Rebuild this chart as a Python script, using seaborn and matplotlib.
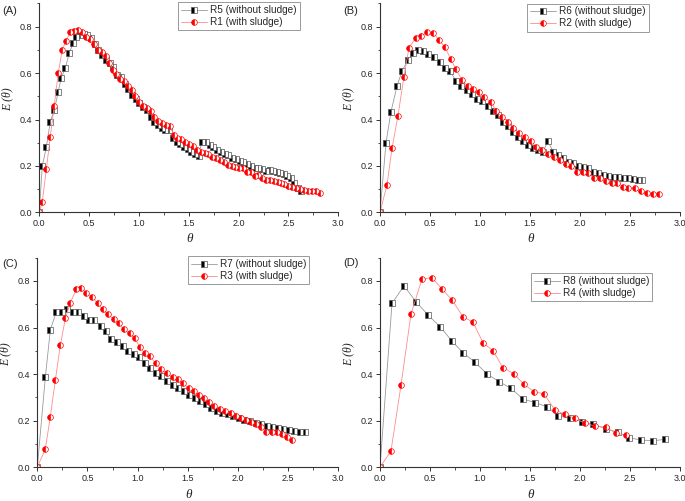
import matplotlib
matplotlib.use("Agg")
import matplotlib.pyplot as plt
import seaborn as sns
from matplotlib.ticker import MultipleLocator

sns.set_style("ticks")
plt.rcParams['font.family'] = ['Liberation Sans', 'DejaVu Sans']

# ---------------- data ----------------
# (A) R5 without sludge / R1 with sludge
theta_r5 = [0.00, 0.03, 0.07, 0.11, 0.15, 0.19, 0.22, 0.26, 0.30, 0.34,
            0.37, 0.41, 0.45, 0.48, 0.52, 0.56, 0.59, 0.63, 0.67, 0.71,
            0.74, 0.78, 0.82, 0.86, 0.89, 0.93, 0.97, 1.00, 1.04, 1.08,
            1.12, 1.15, 1.19, 1.23, 1.26, 1.30, 1.34, 1.38, 1.41, 1.45,
            1.49, 1.52, 1.56, 1.60, 1.63, 1.67, 1.71, 1.74, 1.78, 1.82,
            1.86, 1.89, 1.93, 1.97, 2.01, 2.04, 2.08, 2.12, 2.16, 2.19,
            2.23, 2.27, 2.31, 2.34, 2.38, 2.42, 2.46, 2.49, 2.53, 2.56,
            2.60, 2.63]
e_r5 = [0.00, 0.20, 0.28, 0.39, 0.44, 0.52, 0.58, 0.62, 0.685, 0.73,
        0.755, 0.765, 0.77, 0.765, 0.75, 0.725, 0.70, 0.68, 0.655, 0.645,
        0.625, 0.59, 0.585, 0.555, 0.53, 0.505, 0.49, 0.47, 0.455, 0.44,
        0.41, 0.39, 0.375, 0.365, 0.355, 0.355, 0.32, 0.305, 0.295, 0.28,
        0.272, 0.262, 0.25, 0.244, 0.305, 0.305, 0.29, 0.28, 0.268, 0.26,
        0.25, 0.245, 0.235, 0.23, 0.22, 0.215, 0.21, 0.20, 0.19, 0.19,
        0.185, 0.18, 0.182, 0.178, 0.172, 0.168, 0.163, 0.158, 0.148, 0.125,
        0.105, 0.09]
theta_r1 = [0.00, 0.03, 0.07, 0.11, 0.15, 0.19, 0.23, 0.27, 0.31, 0.35,
            0.39, 0.43, 0.47, 0.51, 0.55, 0.59, 0.63, 0.67, 0.70, 0.74,
            0.77, 0.81, 0.85, 0.89, 0.93, 0.96, 1.00, 1.04, 1.08, 1.12,
            1.15, 1.19, 1.23, 1.27, 1.31, 1.35, 1.38, 1.42, 1.46, 1.50,
            1.54, 1.58, 1.62, 1.66, 1.69, 1.73, 1.77, 1.81, 1.85, 1.89,
            1.93, 1.96, 2.00, 2.04, 2.08, 2.12, 2.16, 2.19, 2.23, 2.27,
            2.31, 2.35, 2.39, 2.43, 2.46, 2.50, 2.54, 2.58, 2.62, 2.66,
            2.70, 2.74, 2.78, 2.82]
e_r1 = [0.00, 0.045, 0.185, 0.325, 0.46, 0.60, 0.70, 0.74, 0.775, 0.782,
        0.785, 0.775, 0.755, 0.745, 0.725, 0.70, 0.69, 0.675, 0.645, 0.615,
        0.595, 0.575, 0.565, 0.545, 0.525, 0.50, 0.475, 0.46, 0.45, 0.435,
        0.41, 0.395, 0.385, 0.375, 0.37, 0.335, 0.32, 0.315, 0.305, 0.295,
        0.285, 0.27, 0.26, 0.255, 0.25, 0.24, 0.235, 0.225, 0.215, 0.205,
        0.20, 0.195, 0.19, 0.19, 0.175, 0.175, 0.155, 0.16, 0.15, 0.14,
        0.14, 0.135, 0.13, 0.125, 0.12, 0.115, 0.11, 0.105, 0.10, 0.095,
        0.09, 0.09, 0.09, 0.085]

# (B) R6 without sludge / R2 with sludge
theta_r6 = [0.00, 0.06, 0.11, 0.17, 0.22, 0.28, 0.33, 0.38, 0.43, 0.48,
            0.54, 0.60, 0.65, 0.70, 0.76, 0.81, 0.87, 0.92, 0.97, 1.02,
            1.08, 1.13, 1.18, 1.23, 1.28, 1.33, 1.38, 1.43, 1.48, 1.53,
            1.58, 1.63, 1.68, 1.73, 1.78, 1.83, 1.88, 1.93, 1.98, 2.03,
            2.08, 2.13, 2.18, 2.23, 2.28, 2.33, 2.38, 2.43, 2.48, 2.53,
            2.58, 2.62]
e_r6 = [0.00, 0.30, 0.434, 0.544, 0.609, 0.656, 0.685, 0.70, 0.697, 0.682,
        0.668, 0.646, 0.62, 0.609, 0.567, 0.546, 0.527, 0.51, 0.49, 0.48,
        0.458, 0.437, 0.42, 0.39, 0.37, 0.348, 0.326, 0.307, 0.29, 0.278,
        0.27, 0.262, 0.307, 0.262, 0.245, 0.233, 0.218, 0.211, 0.20, 0.197,
        0.19, 0.175, 0.168, 0.161, 0.157, 0.154, 0.151, 0.149, 0.146, 0.142,
        0.139, 0.138]
theta_r2 = [0.00, 0.07, 0.12, 0.18, 0.24, 0.29, 0.36, 0.41, 0.47, 0.53,
            0.59, 0.65, 0.71, 0.76, 0.82, 0.88, 0.93, 0.99, 1.04, 1.11,
            1.16, 1.22, 1.28, 1.33, 1.39, 1.45, 1.51, 1.56, 1.62, 1.68,
            1.74, 1.80, 1.86, 1.91, 1.97, 2.03, 2.08, 2.14, 2.20, 2.26,
            2.32, 2.37, 2.43, 2.48, 2.55, 2.61, 2.67, 2.73, 2.79]
e_r2 = [0.00, 0.118, 0.276, 0.417, 0.585, 0.71, 0.753, 0.76, 0.776, 0.774,
        0.743, 0.711, 0.659, 0.616, 0.57, 0.544, 0.53, 0.517, 0.495, 0.477,
        0.437, 0.412, 0.39, 0.362, 0.34, 0.323, 0.307, 0.283, 0.269, 0.251,
        0.24, 0.225, 0.208, 0.201, 0.175, 0.175, 0.171, 0.146, 0.146, 0.136,
        0.128, 0.128, 0.111, 0.106, 0.103, 0.093, 0.082, 0.079, 0.079]

# (C) R7 without sludge / R3 with sludge
theta_r7 = [0.00, 0.08, 0.13, 0.19, 0.25, 0.30, 0.36, 0.41, 0.47, 0.52,
            0.57, 0.63, 0.68, 0.73, 0.79, 0.85, 0.90, 0.96, 1.01, 1.07,
            1.12, 1.18, 1.23, 1.29, 1.35, 1.40, 1.46, 1.51, 1.57, 1.62,
            1.68, 1.73, 1.79, 1.84, 1.90, 1.95, 2.01, 2.06, 2.12, 2.18,
            2.23, 2.29, 2.34, 2.40, 2.45, 2.51, 2.56, 2.62, 2.67]
e_r7 = [0.00, 0.386, 0.59, 0.668, 0.668, 0.68, 0.668, 0.666, 0.651, 0.633,
        0.633, 0.607, 0.585, 0.55, 0.54, 0.521, 0.50, 0.487, 0.472, 0.447,
        0.425, 0.406, 0.394, 0.372, 0.353, 0.339, 0.328, 0.311, 0.296, 0.285,
        0.27, 0.256, 0.242, 0.235, 0.229, 0.222, 0.21, 0.203, 0.199, 0.189,
        0.185, 0.179, 0.172, 0.167, 0.163, 0.16, 0.157, 0.153, 0.15]
theta_r3 = [0.00, 0.08, 0.13, 0.18, 0.23, 0.28, 0.33, 0.39, 0.44, 0.49,
            0.55, 0.60, 0.65, 0.70, 0.76, 0.81, 0.86, 0.92, 0.97, 1.02,
            1.07, 1.12, 1.18, 1.23, 1.29, 1.35, 1.40, 1.45, 1.51, 1.56,
            1.61, 1.66, 1.71, 1.76, 1.82, 1.87, 1.93, 1.98, 2.03, 2.08,
            2.13, 2.18, 2.23, 2.28, 2.34, 2.39, 2.44, 2.49, 2.54]
e_r3 = [0.00, 0.079, 0.218, 0.375, 0.525, 0.64, 0.707, 0.766, 0.769, 0.75,
        0.73, 0.704, 0.678, 0.657, 0.637, 0.621, 0.592, 0.575, 0.554, 0.518,
        0.489, 0.478, 0.446, 0.421, 0.404, 0.386, 0.378, 0.361, 0.339, 0.329,
        0.31, 0.299, 0.282, 0.265, 0.25, 0.243, 0.232, 0.22, 0.21, 0.203,
        0.193, 0.185, 0.175, 0.153, 0.15, 0.15, 0.142, 0.132, 0.117]

# (D) R8 without sludge / R4 with sludge
theta_r8 = [0.00, 0.12, 0.24, 0.36, 0.48, 0.60, 0.72, 0.83, 0.95, 1.07,
            1.19, 1.31, 1.43, 1.55, 1.67, 1.78, 1.90, 2.02, 2.13, 2.26,
            2.38, 2.49, 2.61, 2.73, 2.85]
e_r8 = [0.00, 0.704, 0.779, 0.711, 0.654, 0.604, 0.542, 0.492, 0.451, 0.401,
        0.368, 0.339, 0.293, 0.278, 0.26, 0.222, 0.21, 0.196, 0.185, 0.165,
        0.15, 0.127, 0.117, 0.114, 0.12]
theta_r4 = [0.00, 0.11, 0.21, 0.31, 0.42, 0.52, 0.62, 0.72, 0.83, 0.93,
            1.03, 1.13, 1.23, 1.34, 1.44, 1.54, 1.64, 1.75, 1.85, 1.95,
            2.05, 2.15, 2.26, 2.36, 2.46]
e_r4 = [0.00, 0.07, 0.353, 0.658, 0.809, 0.814, 0.766, 0.718, 0.647, 0.623,
        0.535, 0.50, 0.428, 0.401, 0.356, 0.325, 0.315, 0.246, 0.228, 0.21,
        0.189, 0.177, 0.172, 0.146, 0.139]

x_ticks = [0.0, 0.5, 1.0, 1.5, 2.0, 2.5, 3.0]
y_ticks = [0.0, 0.2, 0.4, 0.6, 0.8]

W, H = 685, 501


def draw_panel(ax, tb, eb, lab_b, tr, er, lab_r, leg_xy):
    sns.lineplot(x=tb, y=eb, ax=ax, label=lab_b, errorbar=None, sort=False,
                 color='#9a9a9a', lw=0.6, marker='s', markersize=3.9,
                 fillstyle='left', markerfacecolor='black',
                 markerfacecoloralt='white', markeredgecolor='#555555',
                 markeredgewidth=0.5)
    sns.lineplot(x=tr, y=er, ax=ax, label=lab_r, errorbar=None, sort=False,
                 color='#ff8c8c', lw=0.6, marker='o', markersize=4.1,
                 fillstyle='left', markerfacecolor='red',
                 markerfacecoloralt='white', markeredgecolor='red',
                 markeredgewidth=0.5)
    ax.set_xlim(0, 3.0)
    ax.set_ylim(0, 0.9)
    ax.set_xticks(x_ticks)
    ax.set_yticks(y_ticks)
    ax.xaxis.set_minor_locator(MultipleLocator(0.25))
    ax.yaxis.set_minor_locator(MultipleLocator(0.1))
    ax.tick_params(which='major', direction='out', length=3, width=0.7,
                   labelsize=6.5, pad=2, color='#333333')
    ax.tick_params(which='minor', direction='out', length=1.8, width=0.6,
                   color='#333333')
    sns.despine(ax=ax)
    for s in ['left', 'bottom']:
        ax.spines[s].set_linewidth(0.8)
        ax.spines[s].set_color('#333333')
    ax.set_xlabel('θ', fontfamily='Liberation Serif', style='italic', fontsize=9.5)
    ax.set_ylabel('E (θ)', fontfamily='Liberation Serif', style='italic', fontsize=8.5)
    ax.xaxis.set_label_coords(0.502, -0.13)
    ax.xaxis.label.set_verticalalignment('center')
    ax.yaxis.set_label_coords(-0.106, 0.54)
    ax.yaxis.label.set_verticalalignment('center')
    leg = ax.legend(loc='upper left', bbox_to_anchor=leg_xy, frameon=True,
                    fancybox=False, edgecolor='#999999', framealpha=1,
                    fontsize=7.2, handlelength=2.6, handletextpad=0.3,
                    borderpad=0.3, labelspacing=0.2, borderaxespad=0)
    leg.get_frame().set_linewidth(0.7)


fig = plt.figure(figsize=(W / 100, H / 100), dpi=100)
ax_a = fig.add_axes([39.3 / W, 1 - 212.3 / H, 299 / W, 208.8 / H])
ax_b = fig.add_axes([380 / W, 1 - 212.3 / H, 300 / W, 208.8 / H])
ax_c = fig.add_axes([37.3 / W, 1 - 467.3 / H, 301 / W, 209.6 / H])
ax_d = fig.add_axes([380 / W, 1 - 467.3 / H, 300 / W, 209.6 / H])

draw_panel(ax_a, theta_r5, e_r5, 'R5 (without sludge)',
           theta_r1, e_r1, 'R1 (with sludge)', (0.464, 1.007))
draw_panel(ax_b, theta_r6, e_r6, 'R6 (without sludge)',
           theta_r2, e_r2, 'R2 (with sludge)', (0.49, 1.0))
draw_panel(ax_c, theta_r7, e_r7, 'R7 (without sludge)',
           theta_r3, e_r3, 'R3 (with sludge)', (0.50, 1.008))
draw_panel(ax_d, theta_r8, e_r8, 'R8 (without sludge)',
           theta_r4, e_r4, 'R4 (with sludge)', (0.503, 0.927))

for tag, px, py in [('(A)', 2, 11), ('(B)', 343, 11), ('(C)', 2, 264), ('(D)', 343, 263)]:
    fig.text(px / W, 1 - py / H, tag, ha='left', va='center', fontsize=8)

fig.savefig('out.png', dpi=100)
